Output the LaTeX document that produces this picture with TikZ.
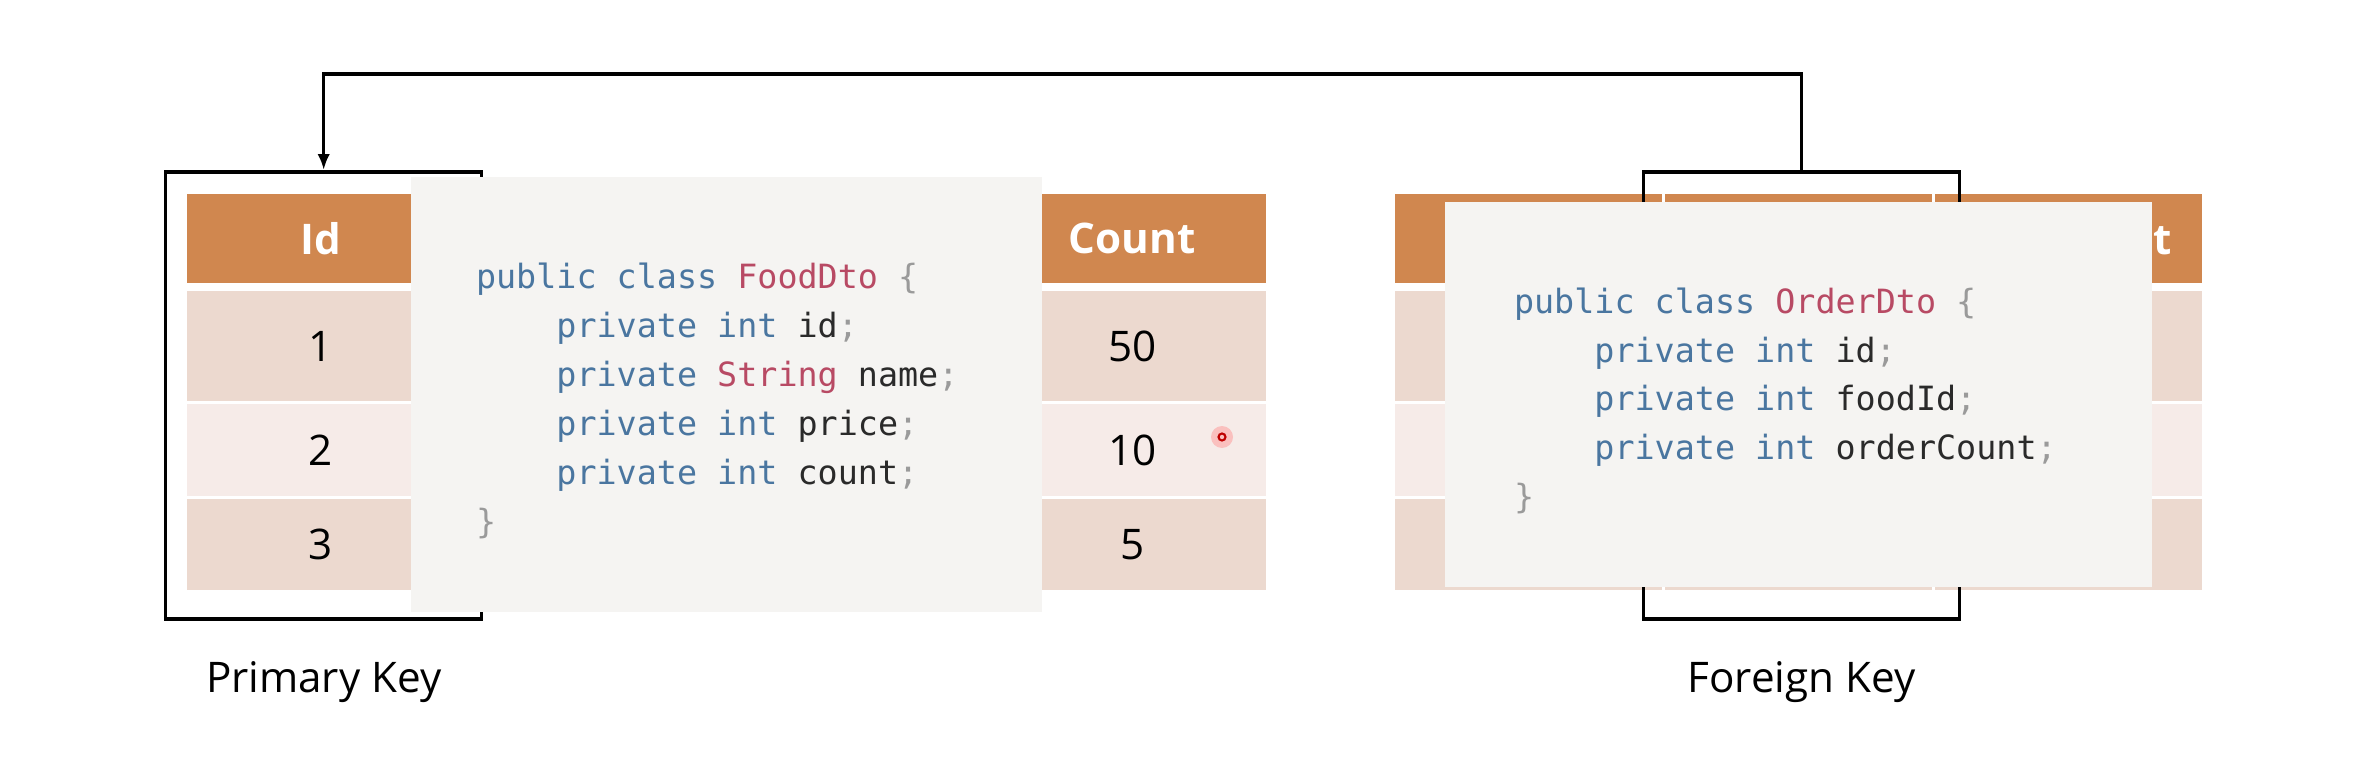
\documentclass[tikz,border=0pt]{standalone}
\usepackage{fontspec}
\setmainfont{Open Sans}
\newfontfamily\codefont{DejaVu Sans Mono}
\usetikzlibrary{positioning, arrows, arrows.meta, calc}

\definecolor{headfill}{HTML}{D0874F}
\definecolor{rowdark}{HTML}{ECD9CF}
\definecolor{rowlight}{HTML}{F6EBE8}
\definecolor{codebg}{HTML}{F5F4F2}
\definecolor{kwblue}{HTML}{4A76A0}
\definecolor{typered}{HTML}{B84A64}
\definecolor{punct}{HTML}{9A9A9A}
\definecolor{ident}{HTML}{2A2A2A}

\newcommand{\kw}[1]{\textcolor{kwblue}{#1}}
\newcommand{\ty}[1]{\textcolor{typered}{#1}}
\newcommand{\pu}[1]{\textcolor{punct}{#1}}
\newcommand{\ind}{\phantom{xxxx}}

\tikzset{
  cell/.style={inner sep=0, minimum width=2.675cm, font=\fontsize{12}{14}\selectfont},
  head/.style={cell, fill=headfill, text=white, font=\fontsize{12}{14}\selectfont\bfseries, minimum height=0.89cm},
  rowA/.style={cell, fill=rowdark, minimum height=1.10cm},
  rowB/.style={cell, fill=rowlight, minimum height=0.92cm},
  rowC/.style={cell, fill=rowdark, minimum height=0.91cm},
  keybox/.style={draw, line width=1pt, inner sep=0, minimum width=3.16cm, minimum height=4.47cm},
  codebox/.style={fill=codebg, inner sep=0},
  code/.style={anchor=base west, inner sep=0, text=ident, font=\codefont\fontsize{9.5}{11}\selectfont},
  link/.style={->, line width=1pt},
  keylabel/.style={anchor=base, inner sep=0, font=\fontsize{12}{14}\selectfont},
}

\begin{document}
\begin{tikzpicture}[>={Latex[length=4.5pt,width=3.5pt]}]
    \useasboundingbox (0,0) rectangle (23.6,7.73);

    % food table
    \foreach \c/\h/\a/\b/\d in {0/Id/1/2/3, 1/{}/{}/{}/{}, 2/{}/{}/{}/{}, 3/Count/50/10/5} {
        \node[head] (fh\c) at ({3.2075+2.705*\c},5.345) {\h};
        \node[rowA] (fa\c) at ({3.2075+2.705*\c},4.27) {\a};
        \node[rowB] (fb\c) at ({3.2075+2.705*\c},3.23) {\b};
        \node[rowC] (fc\c) at ({3.2075+2.705*\c},2.285) {\d};
    }

    % order table
    \foreach \c in {0,1,2} {
        \node[head] (oh\c) at ({15.285+2.70*\c},5.345) {};
        \node[rowA] (oa\c) at ({15.285+2.70*\c},4.27) {};
        \node[rowB] (ob\c) at ({15.285+2.70*\c},3.23) {};
        \node[rowC] (oc\c) at ({15.285+2.70*\c},2.285) {};
    }
    \node[anchor=east, inner sep=0, text=white, font=\fontsize{12}{14}\selectfont\bfseries] (ohtext) at (21.73,5.345) {OrderCount};

    % key brackets
    \node[keybox] (pk) at (3.237,3.777) {};
    \node[keybox] (fk) at (18.015,3.777) {};

    % code boxes
    \node[codebox, minimum width=6.305cm, minimum height=4.344cm] (food) at (7.2625,3.784) {};
    \node[codebox, minimum width=7.07cm, minimum height=3.845cm] (order) at (17.985,3.7875) {};

    \foreach \src [count=\i] in {
        {\kw{public class} \ty{FoodDto} \pu{\{}},
        {\ind\kw{private int} id\pu{;}},
        {\ind\kw{private} \ty{String} name\pu{;}},
        {\ind\kw{private int} price\pu{;}},
        {\ind\kw{private int} count\pu{;}},
        {\pu{\}}}}
        \node[code] (foodl\i) at ($(food.north west)+(0.65,{-1.116-0.49*(\i-1)})$) {\src};

    \foreach \src [count=\i] in {
        {\kw{public class} \ty{OrderDto} \pu{\{}},
        {\ind\kw{private int} id\pu{;}},
        {\ind\kw{private int} foodId\pu{;}},
        {\ind\kw{private int} orderCount\pu{;}},
        {\pu{\}}}}
        \node[code] (orderl\i) at ($(order.north west)+(0.69,{-1.12-0.488*(\i-1)})$) {\src};

    % cursor mark
    \fill[red!45, opacity=0.45] (12.22,3.36) circle (0.11);
    \draw[red!75!black, line width=0.6pt] (12.22,3.36) circle (0.035);

    % foreign key -> primary key
    \draw[link] (fk.north) -- ++(0,0.961) -| (pk.north);

    \coordinate (labelbase) at (0,0.80);
    \node[keylabel] (pklabel) at (pk.south |- labelbase) {Primary Key};
    \node[keylabel] (fklabel) at (fk.south |- labelbase) {Foreign Key};
\end{tikzpicture}
\end{document}
